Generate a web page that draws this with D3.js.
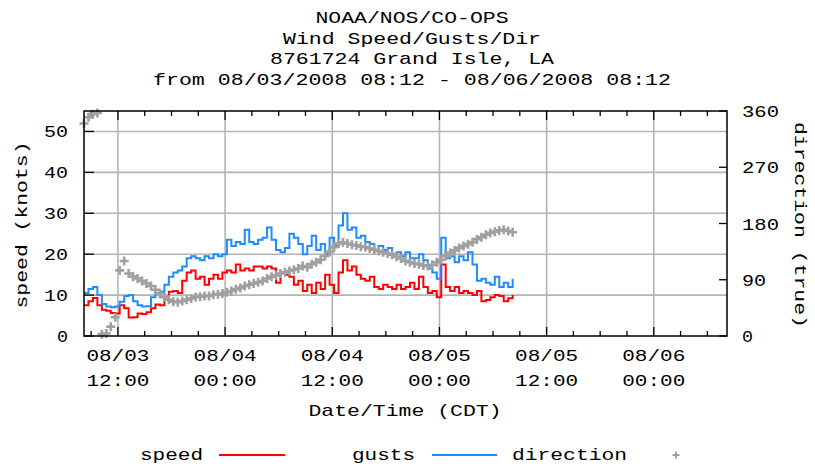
<!DOCTYPE html>
<html>
<head>
<meta charset="utf-8">
<script src="https://cdn.jsdelivr.net/npm/d3@7"></script>
<style>
  body { margin: 0; background: #fff; }
  svg { display: block; }
  text { font-family: "Liberation Mono", "DejaVu Sans Mono", monospace; font-size: 17px; fill: #000; }
</style>
</head>
<body>
<svg id="chart" width="815" height="468"></svg>
<script>
// title lines
const titleLines = [
  'NOAA/NOS/CO-OPS',
  'Wind Speed/Gusts/Dir',
  '8761724 Grand Isle, LA',
  'from 08/03/2008 08:12 - 08/06/2008 08:12'
];

const startTime = new Date(2008, 7, 3, 8, 12);
const endTime = new Date(2008, 7, 6, 8, 12);
const stepMinutes = 30; // one reading every half hour, starting at startTime

// wind speed (knots)
const speed = [
  7.5, 8.5, 9.3, 7.5, 6.4, 6.2, 5.6, 5.5, 7.5, 6.8,
  4.5, 4.6, 5.5, 5.4, 5.8, 6.8, 7.7, 7.5, 9.5, 10.8,
  11, 10.5, 13.5, 15.5, 16, 14, 14.5, 12.5, 14, 15,
  14, 15.5, 16, 15.5, 17.5, 16, 16.5, 16, 17, 17,
  16.5, 17, 16.5, 13, 15.5, 15, 14.5, 12.5, 13.5, 11,
  12.5, 10.5, 13, 11.5, 15, 12.5, 10.5, 15.5, 18.5, 16,
  17, 15, 14, 13.5, 14.5, 12, 11.5, 12.5, 12, 11.5,
  12.5, 11.5, 12, 13, 11.5, 14.5, 12, 10.5, 11, 9.5,
  17.5, 12, 11, 12, 10.5, 11, 10.5, 10, 11, 8.5,
  8.8, 9.5, 10, 9.8, 8.5, 9.2, 10
];

// wind gusts (knots)
const gusts = [
  10.5, 11.5, 12, 10, 7.8, 7.2, 7, 7.2, 8.4, 9.8,
  10, 8.5, 7.5, 7.2, 7.3, 9.5, 10.5, 10.8, 12.5, 14.5,
  15.5, 16, 17, 19, 19.5, 19, 18.5, 19.5, 19, 20,
  19.5, 20, 23.5, 22, 23, 22.5, 26, 23, 22.5, 23.5,
  24, 26.5, 23.5, 21, 20.5, 21.5, 25, 24, 22.5, 20,
  22, 24.5, 21, 22.5, 20, 24, 22, 27, 30, 26,
  26.5, 24, 24.5, 23, 22.5, 21, 22, 21, 21.5, 20,
  20.5, 19.5, 20.5, 19, 19, 20, 18.5, 16.5, 15.5, 14,
  24, 19, 19.5, 18, 19.5, 18.5, 20.5, 17.5, 13.5, 14,
  13, 12.5, 14.5, 12, 13, 12, 14
];

// wind direction (degrees true)
const direction = [
  340, 350, 355, 357, 3, 4, 15, 30, 105, 120,
  100, 95, 92, 88, 84, 80, 74, 68, 62, 58,
  55, 54, 56, 58, 60, 62, 63, 64, 64, 66,
  67, 68, 70, 72, 75, 77, 80, 82, 84, 86,
  88, 92, 95, 97, 100, 102, 104, 106, 108, 112,
  110, 115, 118, 122, 128, 135, 142, 148, 150, 148,
  146, 145, 143, 142, 140, 138, 136, 134, 132, 130,
  127, 124, 120, 118, 116, 115, 113, 112, 114, 118,
  122, 128, 133, 137, 141, 144, 147, 150, 155, 158,
  162, 165, 167, 169, 170, 168, 166
];

const speedTicks = [0, 10, 20, 30, 40, 50];
const dirTicks = [0, 90, 180, 270, 360];

const legendItems = [
  {name: 'speed', color: '#ff0000', kind: 'line'},
  {name: 'gusts', color: '#1e8cff', kind: 'line'},
  {name: 'direction', color: '#a0a0a0', kind: 'mark'}
];

// ---- layout ----
const plotL = 84, plotR = 727, plotT = 111, plotB = 336;
const charW = 13;

const svg = d3.select('#chart');

// stretch monospace text to the wide cell of the original font
function wide(sel) {
  sel.attr('textLength', function() { return this.textContent.length * charW - 2; })
     .attr('lengthAdjust', 'spacingAndGlyphs');
  return sel;
}

const times = speed.map((d, i) => d3.timeMinute.offset(startTime, i * stepMinutes));

const x = d3.scaleTime().domain([startTime, endTime]).range([plotL, plotR]);
const y = d3.scaleLinear().domain([0, 55]).range([plotB, plotT]);
const yDir = d3.scaleLinear().domain([0, 360]).range([plotB, plotT]);

// title
svg.append('g').selectAll('text')
  .data(titleLines)
  .enter().append('text')
    .attr('x', 412)
    .attr('y', (d, i) => 23 + i * 20.5)
    .attr('text-anchor', 'middle')
    .text(d => d)
    .call(wide);

// grid
const allTicks = d3.timeHour.every(3).range(startTime, endTime);
const majorTicks = allTicks.filter(d => d.getHours() % 12 === 0);

const grid = svg.append('g')
  .attr('stroke', '#b4b4b4')
  .attr('stroke-width', 1.6);
grid.selectAll('.hgrid')
  .data(speedTicks.filter(d => d > 0))
  .enter().append('line')
    .attr('x1', plotL).attr('x2', plotR)
    .attr('y1', d => y(d)).attr('y2', d => y(d));
grid.selectAll('.vgrid')
  .data(majorTicks)
  .enter().append('line')
    .attr('x1', d => x(d)).attr('x2', d => x(d))
    .attr('y1', plotT).attr('y2', plotB);

// ticks (inward)
const ticks = svg.append('g').attr('stroke', '#000').attr('stroke-width', 1.3);
ticks.selectAll('.ly')
  .data(speedTicks)
  .enter().append('line')
    .attr('x1', plotL).attr('x2', plotL + 10)
    .attr('y1', d => y(d)).attr('y2', d => y(d));
ticks.selectAll('.ry')
  .data(dirTicks)
  .enter().append('line')
    .attr('x1', plotR - 8).attr('x2', plotR)
    .attr('y1', d => yDir(d)).attr('y2', d => yDir(d));
ticks.selectAll('.bx')
  .data(allTicks)
  .enter().append('line')
    .attr('x1', d => x(d)).attr('x2', d => x(d))
    .attr('y1', plotB)
    .attr('y2', d => plotB - (d.getHours() % 12 === 0 ? 9 : 5));
ticks.selectAll('.tx')
  .data(allTicks)
  .enter().append('line')
    .attr('x1', d => x(d)).attr('x2', d => x(d))
    .attr('y1', plotT)
    .attr('y2', d => plotT + (d.getHours() % 12 === 0 ? 9 : 5));

// data lines
const windLine = d3.line()
  .x((d, i) => x(times[i]))
  .y(d => y(d))
  .curve(d3.curveStepAfter);

svg.append('path')
  .datum(speed)
  .attr('d', windLine)
  .attr('fill', 'none')
  .attr('stroke', legendItems[0].color)
  .attr('stroke-width', 2);

svg.append('path')
  .datum(gusts)
  .attr('d', windLine)
  .attr('fill', 'none')
  .attr('stroke', legendItems[1].color)
  .attr('stroke-width', 2);

// direction markers ('+')
const m = 4.5;
svg.append('g')
  .attr('stroke', legendItems[2].color)
  .attr('stroke-width', 2.6)
  .selectAll('path')
  .data(direction)
  .enter().append('path')
    .attr('d', (d, i) => {
      const cx = x(times[i]), cy = yDir(d);
      return 'M' + (cx - m) + ',' + cy + 'H' + (cx + m) + 'M' + cx + ',' + (cy - m) + 'V' + (cy + m);
    });

// frame
svg.append('rect')
  .attr('x', plotL).attr('y', plotT)
  .attr('width', plotR - plotL).attr('height', plotB - plotT)
  .attr('fill', 'none')
  .attr('stroke', '#000')
  .attr('stroke-width', 1.5);

// axis labels
svg.append('g').selectAll('text')
  .data(speedTicks)
  .enter().append('text')
    .attr('x', 68)
    .attr('y', d => y(d) + 6)
    .attr('text-anchor', 'end')
    .text(d => d)
    .call(wide);

svg.append('g').selectAll('text')
  .data(dirTicks)
  .enter().append('text')
    .attr('x', 742)
    .attr('y', d => yDir(d) + 6)
    .text(d => d)
    .call(wide);

const fmtDay = d3.timeFormat('%m/%d');
const fmtHour = d3.timeFormat('%H:%M');
const xl = svg.append('g').selectAll('g')
  .data(majorTicks)
  .enter().append('g');
xl.append('text')
  .attr('x', d => x(d)).attr('y', 361)
  .attr('text-anchor', 'middle')
  .text(d => fmtDay(d))
  .call(wide);
xl.append('text')
  .attr('x', d => x(d)).attr('y', 386)
  .attr('text-anchor', 'middle')
  .text(d => fmtHour(d))
  .call(wide);

svg.append('text')
  .attr('x', 405).attr('y', 416)
  .attr('text-anchor', 'middle')
  .text('Date/Time (CDT)')
  .call(wide);

svg.append('text')
  .attr('transform', 'translate(27,225) rotate(-90)')
  .attr('text-anchor', 'middle')
  .text('speed (knots)')
  .call(wide);

svg.append('text')
  .attr('transform', 'translate(795,225) rotate(90)')
  .attr('text-anchor', 'middle')
  .text('direction (true)')
  .call(wide);

// legend
const legendPos = [
  {tx: 140, sx: 219, ex: 285},
  {tx: 352, sx: 432, ex: 497},
  {tx: 512, sx: 676, ex: 676}
];
const lg = svg.append('g').selectAll('g')
  .data(legendItems)
  .enter().append('g');
lg.append('text')
  .attr('x', (d, i) => legendPos[i].tx)
  .attr('y', 460)
  .text(d => d.name)
  .call(wide);
lg.filter(d => d.kind === 'line').append('line')
  .attr('x1', (d, i) => legendPos[i].sx)
  .attr('x2', (d, i) => legendPos[i].ex)
  .attr('y1', 455).attr('y2', 455)
  .attr('stroke', d => d.color)
  .attr('stroke-width', 2);
lg.filter(d => d.kind === 'mark').append('path')
  .attr('d', 'M' + (676 - 3.5) + ',455H' + (676 + 3.5) + 'M676,' + (455 - 3.5) + 'V' + (455 + 3.5))
  .attr('stroke', d => d.color)
  .attr('stroke-width', 2);
</script>
</body>
</html>
